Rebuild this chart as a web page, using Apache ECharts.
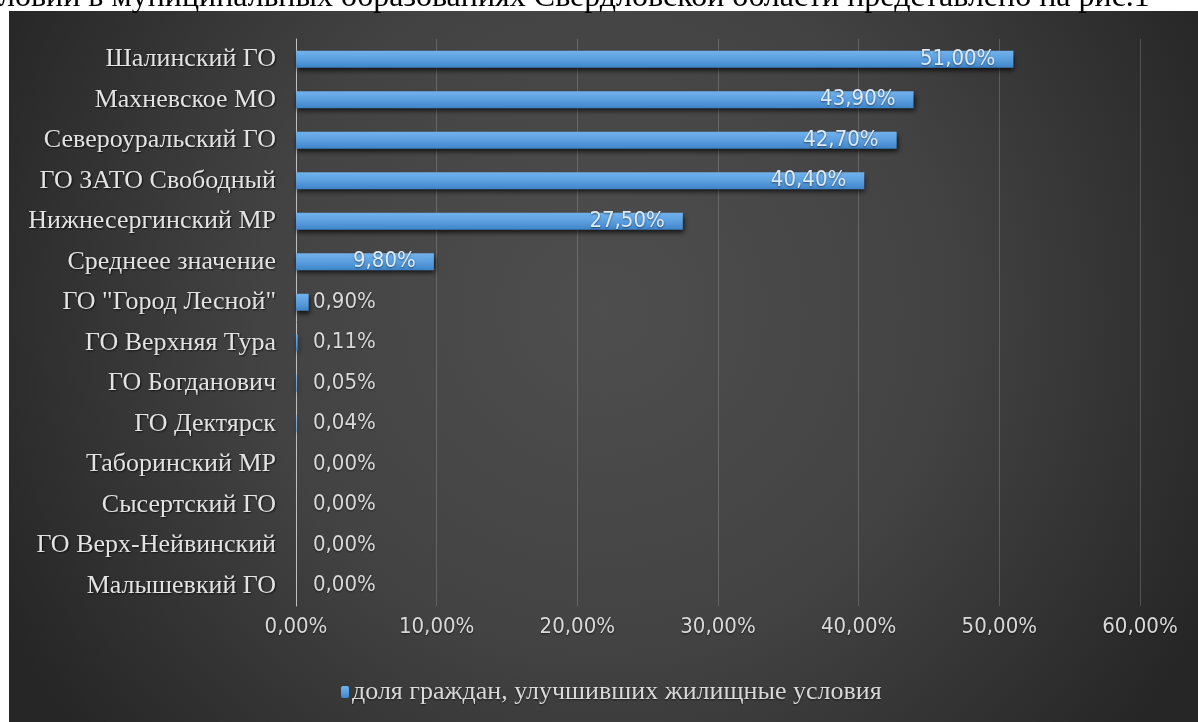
<!DOCTYPE html>
<html>
<head>
<meta charset="utf-8">
<script src="https://cdn.jsdelivr.net/npm/echarts@6/dist/echarts.min.js"></script>
<style>
html,body{margin:0;padding:0;background:#ffffff;}
#chart{width:1198px;height:722px;}
</style>
</head>
<body>
<div id="chart"></div>
<script>
const categories = [
  'Шалинский ГО',
  'Махневское МО',
  'Североуральский ГО',
  'ГО ЗАТО Свободный',
  'Нижнесергинский МР',
  'Среднеее значение',
  'ГО "Город Лесной"',
  'ГО Верхняя Тура',
  'ГО Богданович',
  'ГО Дектярск',
  'Таборинский МР',
  'Сысертский ГО',
  'ГО Верх-Нейвинский',
  'Малышевкий ГО'
];
const values = [51.00, 43.90, 42.70, 40.40, 27.50, 9.80, 0.90, 0.11, 0.05, 0.04, 0.00, 0.00, 0.00, 0.00];
const seriesName = 'доля граждан, улучшивших жилищные условия';
const captionText = 'ловии в муниципальных образованиях Свердловской области представлено на рис.1';

const fmt = v => v.toFixed(2).replace('.', ',') + '%';

const sans = '"Liberation Sans Narrow", "DejaVu Sans Condensed", "Liberation Sans", sans-serif';
const serif = '"Liberation Serif", "DejaVu Serif", serif';

const barData = values.map(v => {
  if (v >= 5) {
    return {
      value: v,
      label: { position: 'insideRight', distance: 18, color: '#dcebfa' }
    };
  }
  return {
    value: v,
    label: { position: [17, '50%'], verticalAlign: 'middle', align: 'left', color: '#d9d9d9' }
  };
});

const chart = echarts.init(document.getElementById('chart'));
chart.setOption({
  backgroundColor: '#ffffff',
  animation: false,
  graphic: [
    {
      type: 'rect',
      z: -100,
      silent: true,
      shape: { x: 9, y: 11, width: 1189, height: 711 },
      style: {
        fill: {
          type: 'radial', x: 0.5, y: 0.42, r: 0.95,
          colorStops: [
            { offset: 0, color: '#4e4e4e' },
            { offset: 0.5, color: '#434343' },
            { offset: 1, color: '#262626' }
          ]
        }
      }
    },
    {
      type: 'text',
      z: 100,
      left: -1,
      top: -18,
      style: {
        text: captionText,
        fill: '#000000',
        font: '32px ' + serif
      }
    }
  ],
  grid: { left: 296, right: 58, top: 39, bottom: 116, containLabel: false },
  legend: {
    left: 336,
    top: 674,
    itemWidth: 8,
    itemHeight: 12,
    itemGap: 6,
    data: [seriesName],
    textStyle: {
      color: '#d9d9d9',
      fontFamily: serif,
      fontSize: 26,
      padding: [0, 0, 0, -2],
      textShadowColor: 'rgba(0,0,0,0.6)',
      textShadowBlur: 2,
      textShadowOffsetY: 1
    }
  },
  xAxis: {
    type: 'value',
    min: 0,
    max: 60,
    interval: 10,
    axisLine: { show: false },
    axisTick: { show: false },
    splitLine: { show: true, lineStyle: { color: 'rgba(255,255,255,0.18)', width: 1 } },
    axisLabel: {
      margin: 10,
      color: '#d9d9d9',
      fontFamily: sans,
      fontSize: 22,
      formatter: v => fmt(v),
      textShadowColor: 'rgba(0,0,0,0.6)',
      textShadowBlur: 2,
      textShadowOffsetY: 1
    }
  },
  yAxis: {
    type: 'category',
    inverse: true,
    data: categories,
    axisLine: { show: true, lineStyle: { color: '#bfbfbf', width: 1 } },
    axisTick: { show: false },
    splitLine: { show: false },
    axisLabel: {
      margin: 20,
      color: '#e3e3e3',
      fontFamily: serif,
      fontSize: 26,
      textShadowColor: 'rgba(0,0,0,0.7)',
      textShadowBlur: 2,
      textShadowOffsetX: 1,
      textShadowOffsetY: 1
    }
  },
  series: [
    {
      name: seriesName,
      type: 'bar',
      data: barData,
      barWidth: 17,
      itemStyle: {
        color: {
          type: 'linear', x: 0, y: 0, x2: 0, y2: 1,
          colorStops: [
            { offset: 0, color: '#72b2ec' },
            { offset: 0.5, color: '#5b9fe0' },
            { offset: 1, color: '#3f84c8' }
          ]
        },
        shadowColor: 'rgba(0,0,0,0.75)',
        shadowBlur: 5,
        shadowOffsetY: 3,
        shadowOffsetX: 1
      },
      label: {
        show: true,
        fontFamily: sans,
        fontSize: 22,
        formatter: p => fmt(p.value),
        textShadowColor: 'rgba(0,0,0,0.5)',
        textShadowBlur: 2,
        textShadowOffsetY: 1
      }
    }
  ]
});
</script>
</body>
</html>
